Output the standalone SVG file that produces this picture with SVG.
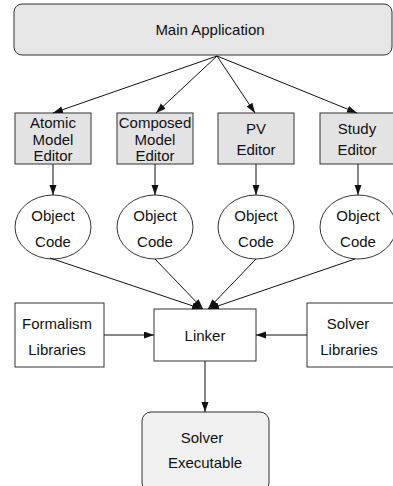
<svg xmlns="http://www.w3.org/2000/svg" width="393" height="486" viewBox="0 0 393 486">
<style>
text { font-family: "Liberation Sans", Arial, sans-serif; font-size: 15px; fill: #111; text-anchor: middle; }
.box { stroke: #333; stroke-width: 1; }
.main { fill: #e6e6e6; }
.ed { fill: #e3e3e3; }
.white { fill: #ffffff; }
.exec { fill: #f0f0f0; }
.conn line { stroke: #111; stroke-width: 1; marker-end: url(#ah); }
</style>
<defs>
<marker id="ah" markerUnits="userSpaceOnUse" markerWidth="11" markerHeight="8" refX="10" refY="3.5" orient="auto">
<path d="M0,0 L10,3.5 L0,7 z" fill="#111"/>
</marker>
</defs>
<rect width="393" height="486" fill="#ffffff"/>
<g id="main-application">
<rect class="box main" x="14" y="4" width="378" height="51" rx="8"/>
<text x="210" y="35">Main Application</text>
</g>
<g id="atomic-editor">
<rect class="box ed" x="15" y="113" width="76" height="51"/>
<text x="53" y="128">Atomic</text>
<text x="53" y="145">Model</text>
<text x="53" y="161">Editor</text>
</g>
<g id="composed-editor">
<rect class="box ed" x="117" y="113" width="76" height="51"/>
<text x="155" y="128">Composed</text>
<text x="155" y="145">Model</text>
<text x="155" y="161">Editor</text>
</g>
<g id="pv-editor">
<rect class="box ed" x="218" y="113" width="76" height="51"/>
<text x="256" y="134">PV</text>
<text x="256" y="155">Editor</text>
</g>
<g id="study-editor">
<rect class="box ed" x="320" y="113" width="76" height="51"/>
<text x="357" y="134">Study</text>
<text x="357" y="155">Editor</text>
</g>
<g id="object-code-1">
<ellipse class="box white" cx="53" cy="227" rx="38" ry="32"/>
<text x="53" y="221">Object</text>
<text x="53" y="247">Code</text>
</g>
<g id="object-code-2">
<ellipse class="box white" cx="155" cy="227" rx="38" ry="32"/>
<text x="155" y="221">Object</text>
<text x="155" y="247">Code</text>
</g>
<g id="object-code-3">
<ellipse class="box white" cx="256" cy="227" rx="38" ry="32"/>
<text x="256" y="221">Object</text>
<text x="256" y="247">Code</text>
</g>
<g id="object-code-4">
<ellipse class="box white" cx="358" cy="227" rx="38" ry="32"/>
<text x="358" y="221">Object</text>
<text x="358" y="247">Code</text>
</g>
<g id="formalism-libraries">
<rect class="box white" x="15" y="303" width="89" height="64"/>
<text x="57" y="329">Formalism</text>
<text x="57" y="355">Libraries</text>
</g>
<g id="linker">
<rect class="box white" x="154" y="309" width="102" height="52"/>
<text x="205" y="341">Linker</text>
</g>
<g id="solver-libraries">
<rect class="box white" x="307" y="303" width="89" height="64"/>
<text x="348" y="329">Solver</text>
<text x="349" y="355">Libraries</text>
</g>
<g id="solver-executable">
<rect class="box exec" x="142" y="412" width="127" height="80" rx="9"/>
<text x="202" y="443">Solver</text>
<text x="205" y="468">Executable</text>
</g>
<g id="connectors" class="conn">
<line x1="217" y1="56" x2="53" y2="113"/>
<line x1="217" y1="56" x2="156" y2="113"/>
<line x1="217" y1="56" x2="255" y2="113"/>
<line x1="217" y1="56" x2="357" y2="113"/>
<line x1="53" y1="164" x2="53" y2="195"/>
<line x1="155" y1="164" x2="155" y2="195"/>
<line x1="256" y1="164" x2="256" y2="195"/>
<line x1="358" y1="164" x2="358" y2="195"/>
<line x1="50" y1="258" x2="202" y2="309"/>
<line x1="155" y1="259" x2="203" y2="309"/>
<line x1="256" y1="259" x2="208" y2="309"/>
<line x1="355" y1="259" x2="209" y2="309"/>
<line x1="104" y1="335" x2="154" y2="335"/>
<line x1="307" y1="335" x2="256" y2="335"/>
<line x1="205" y1="361" x2="205" y2="412"/>
</g>
</svg>
